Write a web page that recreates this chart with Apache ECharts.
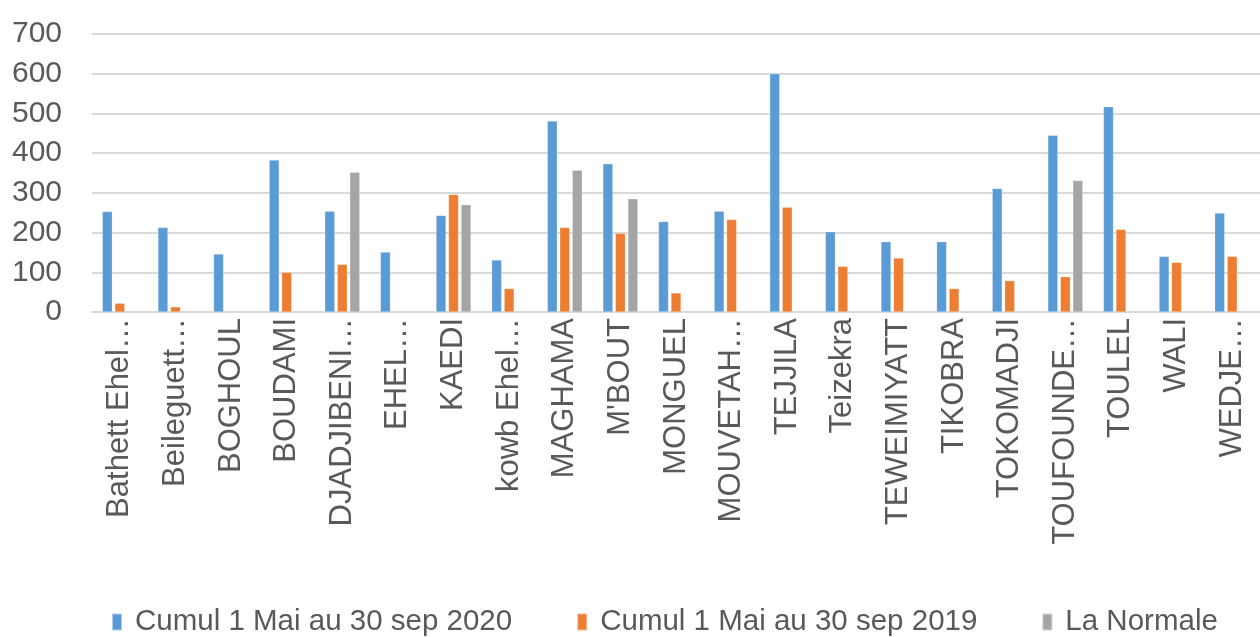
<!DOCTYPE html>
<html>
<head>
<meta charset="utf-8">
<script src="https://cdn.jsdelivr.net/npm/echarts@6/dist/echarts.min.js"></script>
<style>
  html, body { margin: 0; padding: 0; background: #fff; }
  #chart { width: 1260px; height: 637px; }
</style>
</head>
<body>
<div id="chart"></div>
<script>
// stations
var categories = ['Bathett Ehel\u2026', 'Beileguett\u2026', 'BOGHOUL', 'BOUDAMI', 'DJADJIBENI\u2026', 'EHEL\u2026',
	'KAEDI', 'kowb Ehel\u2026', 'MAGHAMA', "M'BOUT", 'MONGUEL', 'MOUVETAH\u2026', 'TEJJILA', 'Teizekra',
	'TEWEIMIYATT', 'TIKOBRA', 'TOKOMADJI', 'TOUFOUNDE\u2026', 'TOULEL', 'WALI', 'WEDJE\u2026'];

var seriesNames = ['Cumul 1 Mai au 30 sep 2020', 'Cumul 1 Mai au 30 sep 2019', 'La Normale'];

var cumul2020 = [253, 213, 146, 383, 254, 151, 243, 131, 481, 373, 228, 254, 600, 202, 177, 177, 311, 445, 517, 140, 249];
var cumul2019 = [22, 13, null, 100, 120, null, 296, 59, 213, 198, 48, 233, 264, 115, 136, 59, 79, 89, 208, 125, 140];
var normale   = [null, null, null, null, 352, null, 270, null, 357, 285, null, null, null, null, null, null, null, 331, null, null, null];

var yTicks = [0, 100, 200, 300, 400, 500, 600, 700];

var colors = ['#5B9BD5', '#ED7D31', '#A5A5A5'];
var textColor = '#595959';
var fontName = '"Liberation Sans", Arial, sans-serif';

function makeSerie(name, data, color) {
	return {
		name: name,
		type: 'bar',
		data: data,
		barWidth: 10,
		barGap: '25%',
		itemStyle: { color: color, borderColor: 'rgba(255,255,255,0.5)', borderWidth: 0.5 }
	};
}

var chartObj = echarts.init(document.getElementById('chart'), null, { renderer: 'canvas' });
var option = {
	animation: false,
	color: colors,
	grid: { left: 92, right: 0, top: 34, bottom: 325, containLabel: false },
	legend: {
		top: 602,
		left: 106,
		itemWidth: 10,
		itemHeight: 17,
		itemGap: 64,
		icon: 'rect',
		textStyle: {
			color: textColor,
			fontSize: 29.5,
			fontFamily: fontName,
			padding: [0, 0, 0, 8]
		},
		data: seriesNames
	},
	xAxis: [
		{
			type: 'category',
			data: categories,
			axisLine: { lineStyle: { color: '#d9d9d9', width: 2 } },
			axisTick: { show: false },
			axisLabel: {
				rotate: 90,
				interval: 0,
				margin: 6,
				color: textColor,
				fontSize: 31,
				fontFamily: fontName
			}
		}
	],
	yAxis: [
		{
			type: 'value',
			min: yTicks[0],
			max: yTicks[yTicks.length - 1],
			interval: 100,
			axisLine: { show: false },
			axisTick: { show: false },
			splitLine: { lineStyle: { color: '#d9d9d9', width: 2 } },
			axisLabel: {
				margin: 30,
				color: textColor,
				fontSize: 30,
				fontFamily: fontName
			}
		}
	],
	series: [
		makeSerie(seriesNames[0], cumul2020, colors[0]),
		makeSerie(seriesNames[1], cumul2019, colors[1]),
		makeSerie(seriesNames[2], normale, colors[2])
	]
};
chartObj.setOption(option);
</script>
</body>
</html>
